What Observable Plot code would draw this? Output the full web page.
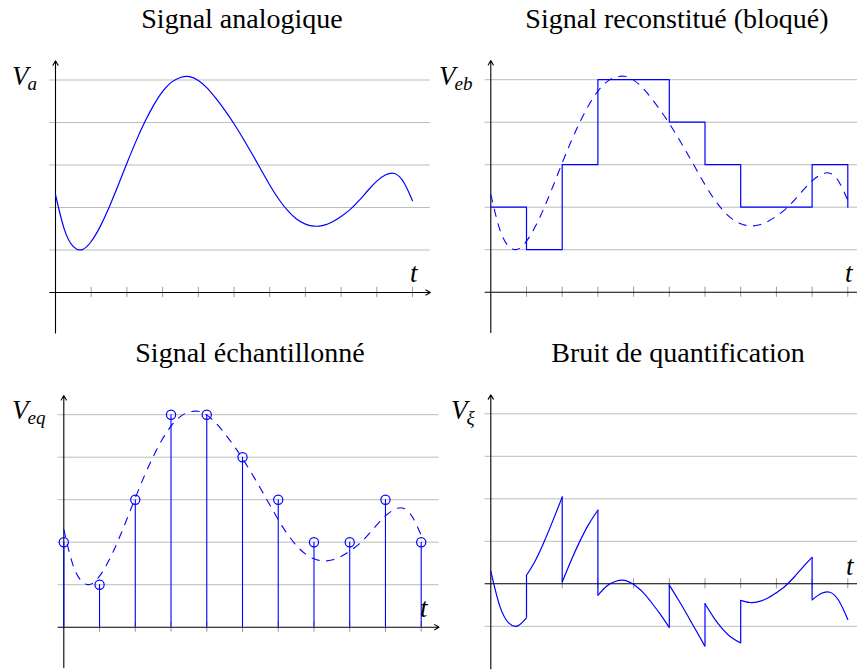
<!DOCTYPE html>
<html><head><meta charset="utf-8">
<script src="https://cdn.jsdelivr.net/npm/d3@7"></script>
<script src="https://cdn.jsdelivr.net/npm/@observablehq/plot@0.6"></script>
<style>
body{margin:0;background:#fff;overflow:hidden}
#wrap{position:relative;width:857px;height:670px;overflow:hidden;background:#fff}
.panel{position:absolute}
#labels{position:absolute;left:0;top:0}
</style></head><body><div id="wrap"></div>
<script>
// ---- data ----
const tValues = [0,0.25,0.5,0.75,1,1.25,1.5,1.75,2,2.25,2.5,2.75,3,3.25,3.5,3.75,4,4.25,4.5,4.75,5,5.25,5.5,5.75,6,6.25,6.5,6.75,7,7.25,7.5,7.75,8,8.25,8.5,8.75,9,9.25,9.5,9.75,10];
const vaValues = [2.30,1.48,1.08,1.01,1.20,1.55,2.00,2.51,3.04,3.55,4.01,4.41,4.73,4.95,5.06,5.08,4.99,4.81,4.56,4.28,3.97,3.63,3.27,2.90,2.53,2.20,1.93,1.73,1.61,1.56,1.58,1.66,1.79,1.95,2.16,2.40,2.62,2.77,2.80,2.60,2.16];
const sampleTimes = [0,1,2,3,4,5,6,7,8,9,10];
const quantized = [2,1,3,5,5,4,3,2,2,3,2];
const tickTimes = [1,2,3,4,5,6,7,8,9,10];
const gridLevels = [1,2,3,4,5];
const noiseGridLevels = [-1,1,2,3,4];
const xAxisExtent = [-0.16, 10.5];
const yAxisExtent = [-0.95, 5.45];
const noiseYAxisExtent = [-2, 4.45];
const titles = ["Signal analogique","Signal reconstitué (bloqué)","Signal échantillonné","Bruit de quantification"];
const yLabels = [["V","a"],["V","eb"],["V","eq"],["V","ξ"]];
const xLabel = "t";

// ---- derived tables ----
const analog = tValues.map((t,i)=>({t, v: vaValues[i]}));
const samples = sampleTimes.map((t,i)=>({t, q: quantized[i]}));
const vaAt = t => vaValues[tValues.indexOf(t)];
const noise = [];
for (let k=0;k<10;k++) tValues.filter(t=>t>=k && t<=k+1).forEach(t=>noise.push({seg:k, t, e: vaAt(t)-quantized[k]}));
const noiseJumps = sampleTimes.slice(1,10).filter(k=>quantized[k]!==quantized[k-1]).map(k=>({t:k, e1: vaAt(k)-quantized[k-1], e2: vaAt(k)-quantized[k]}));

const BLUE = "#0000ff", GRID = "#bcbcbc", TICK = "#999";
const wrap = document.getElementById("wrap");

function axesMarks(grid, yExt){
  return [
    Plot.ruleY(grid, {y: d=>d, x1: xAxisExtent[0], x2: xAxisExtent[1], stroke: GRID, strokeWidth: 1}),
    Plot.ruleX(tickTimes, {x: d=>d, y1: -0.12, y2: 0.12, stroke: TICK, strokeWidth: 1}),
    Plot.arrow([{x1:xAxisExtent[0], x2:xAxisExtent[1]}], {x1:"x1", x2:"x2", y1:0, y2:0, stroke:"black", strokeWidth:1.1, headLength:7}),
    Plot.arrow([{y1:yExt[0], y2:yExt[1]}], {x1:0, x2:0, y1:"y1", y2:"y2", stroke:"black", strokeWidth:1.1, headLength:7})
  ];
}

function panel(cfg, marks){
  const p = Plot.plot({
    width: cfg.w, height: cfg.h, margin: 0,
    style: {background: "transparent", overflow: "visible"},
    x: {domain: [0,10], range: cfg.xr, axis: null},
    y: {domain: cfg.yd, range: cfg.yr, axis: null},
    marks
  });
  p.classList.add("panel");
  p.style.left = cfg.left + "px"; p.style.top = cfg.top + "px";
  wrap.appendChild(p);
}

// Panel 1: analog signal
panel({left:0, top:40, w:440, h:300, xr:[55,412], yd:[0,5], yr:[252,39.5]}, [
  ...axesMarks(gridLevels, yAxisExtent),
  Plot.line(analog, {x:"t", y:"v", curve:"natural", stroke:BLUE, strokeWidth:1.2})
]);

// Panel 2: held (reconstructed) signal
panel({left:430, top:40, w:427, h:300, xr:[60.3,417.3], yd:[0,5], yr:[251.7,39.2]}, [
  ...axesMarks(gridLevels, yAxisExtent),
  Plot.line(samples, {x:"t", y:"q", curve:"step-after", stroke:BLUE, strokeWidth:1.2}),
  Plot.line(analog, {x:"t", y:"v", curve:"natural", stroke:BLUE, strokeWidth:1.1, strokeDasharray:"7.5,7.5"})
]);

// Panel 3: sampled signal
panel({left:0, top:380, w:440, h:290, xr:[63.3,420.7], yd:[0,5], yr:[246.7,34.2]}, [
  ...axesMarks(gridLevels, yAxisExtent),
  Plot.line(analog, {x:"t", y:"v", curve:"natural", stroke:BLUE, strokeWidth:1.1, strokeDasharray:"7.5,7.5"}),
  Plot.ruleX(samples, {x:"t", y1:0, y2:"q", stroke:BLUE, strokeWidth:1.1}),
  Plot.dot(samples, {x:"t", y:"q", r:4.6, stroke:BLUE, fill:"none", strokeWidth:1.2})
]);

// Panel 4: quantization noise
panel({left:430, top:380, w:427, h:290, xr:[60.3,417.3], yd:[0,4], yr:[203.3,33.3]}, [
  ...axesMarks(noiseGridLevels, noiseYAxisExtent),
  Plot.line(noise, {x:"t", y:"e", z:"seg", curve:"natural", stroke:BLUE, strokeWidth:1.2}),
  Plot.ruleX(noiseJumps, {x:"t", y1:"e1", y2:"e2", stroke:BLUE, strokeWidth:1.2})
]);

// ---- pick an installed serif font ----
function pickSerif(){
  const c = document.createElement("canvas").getContext("2d");
  const sample = "Signal analogique Wgqé";
  c.font = "40px monospace"; const mono = c.measureText(sample).width;
  c.font = "40px sans-serif"; const sans = c.measureText(sample).width;
  const cands = ["Liberation Serif","Times New Roman","DejaVu Serif","Noto Serif","FreeSerif","Tinos"];
  for (const f of cands){
    c.font = `40px "${f}", monospace`; const w1 = c.measureText(sample).width;
    c.font = `40px "${f}", sans-serif`; const w2 = c.measureText(sample).width;
    if (w1 !== mono && w2 !== sans) return `"${f}"`;
  }
  return "serif";
}
const SERIF = pickSerif();

// ---- text overlay ----
const NS = "http://www.w3.org/2000/svg";
const svg = document.createElementNS(NS, "svg");
svg.setAttribute("id","labels"); svg.setAttribute("width",857); svg.setAttribute("height",670);
wrap.appendChild(svg);
function txt(x, y, s, attrs={}){
  const e = document.createElementNS(NS, "text");
  e.setAttribute("x", x); e.setAttribute("y", y); e.textContent = s;
  e.style.fontFamily = SERIF + ", serif";
  for (const k in attrs) e.setAttribute(k, attrs[k]);
  svg.appendChild(e); return e;
}
const titlePos = [[242,28],[677,28],[250,362],[678,362]];
titles.forEach((s,i)=>txt(titlePos[i][0], titlePos[i][1], s, {"text-anchor":"middle","font-size":28,"fill":"#000"}));
const vPos = [[12,85],[439,85],[12,418.5],[451,418.5]];
yLabels.forEach((l,i)=>{
  const e = txt(vPos[i][0], vPos[i][1], "", {"font-size":27,"font-style":"italic"});
  const a = document.createElementNS(NS,"tspan"); a.textContent = l[0]; e.appendChild(a);
  const b = document.createElementNS(NS,"tspan"); b.textContent = l[1]; b.setAttribute("font-size",19); b.setAttribute("dy",5); b.setAttribute("dx",-1); e.appendChild(b);
});
const tPos = [[410,282],[845,282],[420,617],[846,575]];
tPos.forEach(p=>txt(p[0], p[1], xLabel, {"font-size":27,"font-style":"italic"}));
</script></body></html>
